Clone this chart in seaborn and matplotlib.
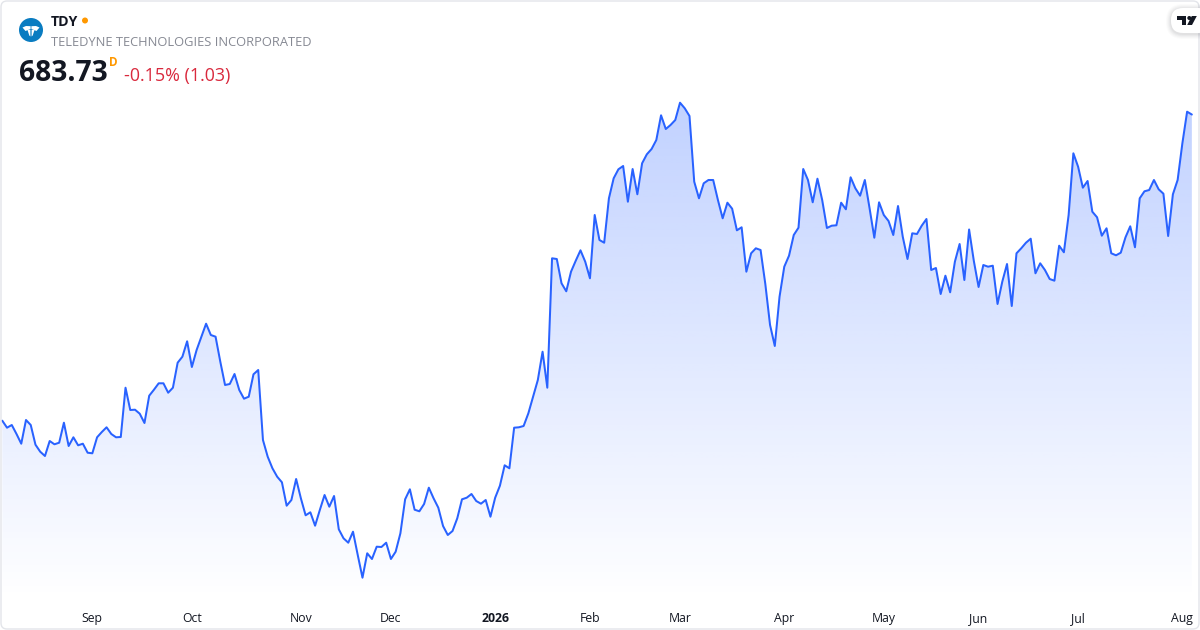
import numpy as np
import pandas as pd
import matplotlib.pyplot as plt
import seaborn as sns
from matplotlib.patches import Circle, FancyBboxPatch, Polygon
from matplotlib.transforms import Affine2D

# daily closes
closes = [
    530.65, 527.15, 528.5, 524, 519.15, 531, 528.5, 518.65, 515.15, 513,
    520.5, 518.85, 519.65, 529.65, 518, 522.35, 518.35, 519.15, 514.65, 514.35,
    522.35, 525, 527.35, 524, 522.35, 522.5, 547.15, 536, 536.15, 534.15,
    529.5, 543.15, 546.15, 549.35, 549.35, 544.65, 547.15, 559.65, 562.65, 570.35,
    557.5, 566, 572.65, 579.15, 573.5, 572.65, 560.15, 548.5, 549, 554,
    546, 541.65, 542.65, 553.85, 556, 521, 512.65, 506.85, 502.65, 499.85,
    488.15, 491, 501.5, 491.85, 483.35, 484.85, 478.15, 486, 493.5, 487.65,
    493, 476.35, 471.85, 469.65, 475.15, 463.5, 452.15, 464.35, 461.5, 467.65,
    467.5, 469.65, 461.5, 465.15, 474.35, 491.35, 496.35, 486.15, 485.35, 489,
    497.15, 491.85, 487.15, 478, 473.5, 475.5, 481.85, 491.35, 492.15, 494,
    490.5, 489.15, 491, 482.65, 492.15, 498.15, 508.35, 506.85, 527.15, 527.35,
    528, 534.35, 542.65, 551, 565.15, 547.15, 611.85, 611.5, 599.35, 595.35,
    605.15, 610.65, 615.85, 610.15, 601.85, 633.5, 621, 619.65, 641.85, 651.85,
    656.35, 658, 640.15, 656.5, 643.85, 659.35, 663.85, 666.5, 671, 683.35,
    676.5, 678.5, 681, 689.65, 686.85, 683, 650.15, 641.85, 649.35, 651,
    651, 641, 631.85, 639.65, 636.65, 625.85, 627.35, 605.15, 614.35, 616.85,
    616, 599, 578.5, 568, 592.65, 607.65, 613.15, 623.5, 627.15, 656.5,
    651, 639.85, 651.65, 641, 627, 628.15, 628.35, 639.65, 636.35, 652.35,
    646.85, 643.15, 651, 636.85, 622.15, 639.85, 633.5, 630.5, 623.5, 638,
    622.65, 611.5, 624.35, 624, 628.15, 631.5, 606, 607, 594, 603.15,
    594.85, 610.15, 619, 601, 626.25, 610.5, 597.5, 608.5, 607.65, 608.15,
    589, 600.15, 609, 588, 614.35, 616.85, 619.65, 621.65, 604.35, 609.35,
    606, 601.5, 600.65, 618.15, 614.85, 633.5, 664.35, 657.65, 647.15, 650.5,
    635.15, 632.35, 623.15, 626.85, 614.35, 613.35, 614.65, 622.35, 627.85, 617.35,
    641.85, 645.35, 646, 651, 646.35, 644.15, 623, 643.85, 651, 669.35,
    685.15, 683.73,
]
month_labels = ["Sep", "Oct", "Nov", "Dec", "2026", "Feb", "Mar", "Apr", "May", "Jun", "Jul", "Aug"]
month_starts = [19, 40, 63, 82, 104, 124, 143, 165, 186, 206, 227, 249]

LINE = "#2962ff"

sns.set_theme(style="white")
plt.rcParams["font.family"] = ["Open Sans", "DejaVu Sans"]

df = pd.DataFrame({"day": range(len(closes)), "close": closes})

fig = plt.figure(figsize=(12, 6.3), dpi=100)
ax = fig.add_axes([0, 0, 1, 1])

# gradient fill under the line, fades out just above the month labels
area = ax.fill_between(df["day"], df["close"], 426, color="none", lw=0)
grad = np.zeros((256, 2, 4))
grad[:, :, :3] = (41 / 255, 98 / 255, 1)
grad[:, :, 3] = np.linspace(0.29, 0.0, 256)[:, None]
img = ax.imshow(grad, extent=[0, len(closes) - 1, 441, df["close"].max()],
                aspect="auto", origin="upper", zorder=1)
img.set_clip_path(area.get_paths()[0], transform=ax.transData)

sns.lineplot(data=df, x="day", y="close", color=LINE, lw=1.45, estimator=None, ax=ax, zorder=2)

ax.set_xlim(-0.485, 252.72)
ax.set_ylim(426, 741)
ax.set_xlabel("")
ax.set_ylabel("")
ax.set_yticks([])
ax.set_xticks(month_starts)
ax.set_xticklabels(month_labels, fontsize=8.8, color="#131722")
ax.tick_params(axis="x", length=0, pad=-13)
for lab in ax.get_xticklabels():
    if lab.get_text() == "2026":
        lab.set_fontweight("bold")
sns.despine(ax=ax, left=True, bottom=True, top=True, right=True)

# header and frame are placed in pixels
px = Affine2D().scale(1 / 1200, -1 / 630).translate(0, 1) + fig.transFigure

fig.add_artist(FancyBboxPatch((1, 1), 1198, 628, boxstyle="round,pad=0,rounding_size=6",
                              fc="none", ec="#e3e5ea", lw=1, transform=px))

fig.add_artist(Circle((31, 30), 12, fc="#0a7cc1", ec="none", transform=px))
for pts in [[(22.5, 27.5), (26, 26), (30.6, 26.2), (30.6, 29), (25.5, 31)],
            [(39.5, 27.5), (36, 26), (31.4, 26.2), (31.4, 29), (36.5, 31)],
            [(27.5, 30), (30.4, 29.8), (30.4, 36.5), (29.3, 35.5)],
            [(34.5, 30), (31.6, 29.8), (31.6, 36.5), (32.7, 35.5)]]:
    fig.add_artist(Polygon(pts, fc="white", ec="none", transform=px))

fig.text(51, 22, "TDY", transform=px, fontsize=10.2, fontweight="bold", color="#131722", va="center")
fig.add_artist(Circle((85, 20.5), 3, fc="#ff9800", ec="none", transform=px))
fig.text(51, 42, "TELEDYNE TECHNOLOGIES INCORPORATED", transform=px, fontsize=9.3,
         color="#868993", va="center")
fig.text(19, 73.5, "683.73", transform=px, fontsize=20.3, fontweight="bold", color="#131722", va="center")
fig.text(109, 62, "D", transform=px, fontsize=8.5, fontweight="bold", color="#ff9800", va="center")
fig.text(124, 76, "-0.15% (1.03)", transform=px, fontsize=12.9, color="#d9293d", va="center")

# logo tab at the top right, soft shadow then white pill
for grow, alpha in [(5, 0.015), (4, 0.02), (3, 0.025), (2, 0.03), (1, 0.035)]:
    fig.add_artist(FancyBboxPatch((1171 - grow, 8 - grow + 1), 40 + 2 * grow, 25 + 2 * grow,
                                  boxstyle=f"round,pad=0,rounding_size={12 + grow}",
                                  fc="#131722", alpha=alpha, ec="none", transform=px))
fig.add_artist(FancyBboxPatch((1171, 8), 40, 25, boxstyle="round,pad=0,rounding_size=12",
                              fc="white", ec="none", transform=px))
fig.add_artist(Polygon([(1177, 16), (1186, 16), (1186, 25), (1181.5, 25), (1181.5, 20), (1177, 20)],
                       fc="#131722", ec="none", transform=px))
fig.add_artist(Polygon([(1191.8, 16), (1196.8, 16), (1192, 25), (1187.2, 25)],
                       fc="#131722", ec="none", transform=px))
fig.add_artist(Circle((1189.3, 18), 2, fc="#131722", ec="none", transform=px))

fig.savefig("out.png", dpi=100)
